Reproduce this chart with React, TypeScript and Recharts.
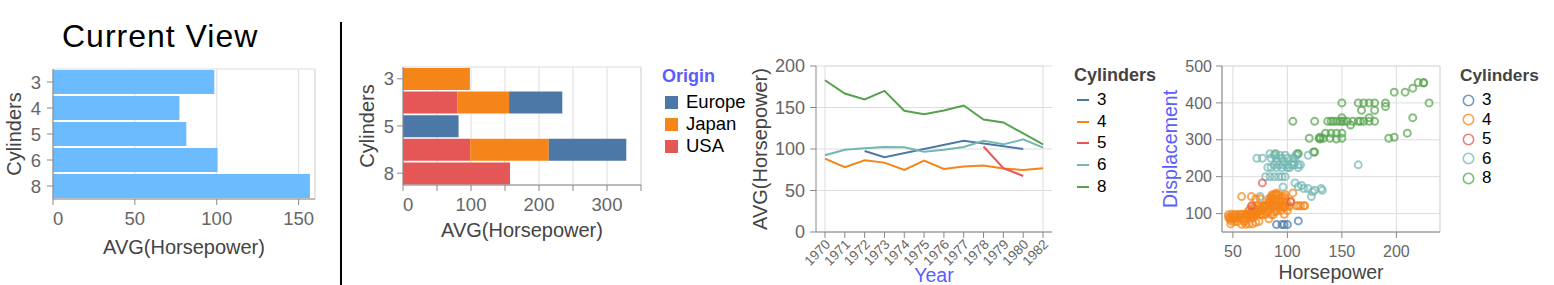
import React from "react";
import {
  BarChart,
  Bar,
  LineChart,
  Line,
  ScatterChart,
  Scatter,
  XAxis,
  YAxis,
  CartesianGrid,
  ReferenceArea,
  Label,
} from "recharts";

const FONT = "'Liberation Sans', Arial, Helvetica, sans-serif";
const ACCENT = "#5a5eff";
const TICK_FILL = "#666";
const TITLE_FILL = "#444";

// shared categories
const cylinders = ["3", "4", "5", "6", "8"];
const cylinderColors = ["#4c78a8", "#f58518", "#e45756", "#72b7b2", "#54a24b"];

// chart 1: average horsepower by cylinders
const avgHorsepower = [98.5, 77.2, 81.4, 100.5, 156.9];
const hpTicks1 = [0, 50, 100, 150];

// chart 2: stacked by origin
const origins = ["Europe", "Japan", "USA"];
const originColors = ["#4c78a8", "#f58518", "#e45756"];
const europeHp = [0, 78.3, 81.7, 114, 0];
const japanHp = [98.4, 75.8, 0, 115.5, 0];
const usaHp = [0, 80.2, 0, 98.9, 157.4];
const hpTicks2 = [0, 50, 100, 150, 200, 250, 300, 350];

// chart 3: avg horsepower per year
const years = ["1970", "1971", "1972", "1973", "1974", "1975", "1976", "1977", "1978", "1979", "1980", "1982"];
const hp3 = [null, null, 97.5, 90, null, null, null, 110, null, null, 100, null];
const hp4 = [88.4, 78, 86.4, 83.6, 74.8, 86, 76, 78.8, 80, 76.4, 74.8, 76.8];
const hp5 = [null, null, null, null, null, null, null, null, 103, 77, 67.5, null];
const hp6 = [92.4, 99.2, 100.8, 102.4, 102, 96.8, 99.2, 102.4, 110, 105.6, 111.6, 101.6];
const hp8 = [182.8, 166.8, 159.6, 170, 146, 142, 146.4, 152.4, 135.6, 132, null, 105.6];
const yTicks3 = [0, 50, 100, 150, 200];

// chart 4: horsepower vs displacement, [hp, displacement]
const cyl3Points = [[90, 70], [95, 70], [97, 70], [100, 70], [110, 80]];
const cyl5Points = [[67, 121], [77, 183], [103, 131]];
const cyl4Points = [
  [46, 97], [46, 90], [47, 85], [48, 85], [48, 91], [48, 72], [49, 98], [49, 79], [50, 90], [51, 88],
  [52, 79], [52, 97], [52, 85], [53, 97], [53, 90], [54, 78], [55, 90], [56, 98], [57, 91], [58, 98],
  [58, 71], [58, 146], [60, 89], [60, 79], [60, 97], [61, 79], [61, 85], [62, 71], [62, 97], [63, 91],
  [63, 98], [64, 105], [65, 72], [65, 97], [65, 98], [65, 110], [66, 98], [67, 91], [67, 98], [67, 105],
  [67, 146], [68, 97], [68, 72], [68, 120], [68, 107], [68, 89], [69, 97], [69, 116], [69, 91], [70, 98],
  [70, 113], [70, 105], [71, 76], [71, 97], [71, 140], [72, 98], [72, 108], [72, 120], [73, 108], [74, 79],
  [74, 110], [75, 97], [75, 108], [75, 140], [76, 98], [76, 120], [76, 108], [77, 112], [78, 108], [78, 97],
  [78, 120], [79, 119], [79, 122], [80, 120], [80, 98], [81, 105], [81, 121], [82, 119], [83, 86], [83, 140],
  [83, 130], [84, 112], [84, 120], [84, 134], [85, 140], [85, 97], [86, 122], [86, 135], [86, 151], [86, 140],
  [87, 97], [87, 119], [88, 121], [88, 140], [88, 151], [88, 134], [88, 105], [89, 151], [89, 119], [90, 107],
  [90, 119], [90, 140], [90, 151], [90, 156], [91, 122], [92, 116], [92, 135], [92, 151], [93, 121], [94, 108],
  [94, 133], [95, 120], [95, 143], [96, 119], [96, 134], [97, 120], [97, 98], [97, 146], [98, 120], [98, 140],
  [98, 151], [99, 130], [100, 108], [100, 119], [102, 120], [103, 134], [105, 156], [108, 121], [110, 121], [112, 121],
  [115, 121], [116, 121],
];
const cyl6Points = [
  [72, 250], [77, 250], [84, 262], [85, 250], [88, 258], [90, 250], [93, 258], [95, 250], [98, 258], [100, 250],
  [105, 250], [107, 250], [108, 258], [88, 232], [92, 232], [96, 232], [100, 225], [100, 232], [102, 225], [104, 232],
  [106, 232], [110, 232], [110, 225], [112, 232], [82, 225], [85, 225], [90, 225], [95, 225], [90, 240], [97, 240],
  [105, 240], [80, 200], [84, 200], [88, 200], [92, 200], [95, 200], [98, 200], [165, 232], [119, 258], [107, 183],
  [110, 173], [113, 176], [115, 168], [119, 168], [122, 146], [123, 159], [125, 163], [131, 168], [132, 163], [96, 172],
  [75, 146], [85, 146],
];
const cyl8Points = [
  [89, 262], [105, 350], [110, 262], [109, 262], [120, 304], [124, 267], [125, 350], [125, 267], [129, 304], [130, 307],
  [130, 302], [133, 304], [135, 318], [137, 350], [139, 304], [140, 318], [140, 350], [142, 350], [145, 318], [145, 350],
  [145, 302], [148, 350], [150, 318], [150, 304], [150, 400], [150, 350], [150, 360], [152, 350], [155, 350], [160, 350],
  [158, 340], [165, 350], [165, 400], [167, 350], [168, 380], [170, 400], [170, 350], [175, 400], [175, 350], [175, 360],
  [180, 400], [180, 350], [180, 380], [190, 400], [190, 390], [193, 304], [198, 307], [198, 429], [208, 429], [210, 318],
  [215, 360], [215, 440], [220, 455], [225, 455], [225, 454], [230, 400],
];
const hpTicks4 = [50, 100, 150, 200];
const dispTicks4 = [100, 200, 300, 400, 500];

const chart1Rows = cylinders.map((c, i) => ({ cyl: c, hp: avgHorsepower[i] }));
const chart2Rows = cylinders.map((c, i) => ({
  cyl: c,
  USA: usaHp[i],
  Japan: japanHp[i],
  Europe: europeHp[i],
}));
const chart3Rows = years.map((y, i) => ({
  year: y,
  c3: hp3[i],
  c4: hp4[i],
  c5: hp5[i],
  c6: hp6[i],
  c8: hp8[i],
}));
const toPts = (arr: number[][]) => arr.map(([hp, disp]) => ({ hp, disp }));

const yTitle = (text: string, cx: number, color: string, size: number) => (props: any) => {
  const vb = props.viewBox || { y: 0, height: 0 };
  const cy = vb.y + vb.height / 2;
  return (
    <text
      x={cx}
      y={cy}
      transform={`rotate(-90 ${cx} ${cy})`}
      textAnchor="middle"
      dominantBaseline="central"
      fill={color}
      fontSize={size}
      fontFamily={FONT}
    >
      {text}
    </text>
  );
};

const xTitle = (text: string, dy: number, color: string, size: number) => (props: any) => {
  const vb = props.viewBox || { x: 0, y: 0, width: 0 };
  return (
    <text
      x={vb.x + vb.width / 2}
      y={vb.y + dy}
      textAnchor="middle"
      dominantBaseline="central"
      fill={color}
      fontSize={size}
      fontFamily={FONT}
    >
      {text}
    </text>
  );
};

const flushTick = (fontSize: number, every: number, maxLabel: number) => (props: any) => {
  const { x, y, payload } = props;
  const v = payload.value;
  const show = v % every === 0 && v <= maxLabel;
  if (!show) return <g />;
  return (
    <text
      x={x}
      y={y}
      dy="0.71em"
      textAnchor={v === 0 ? "start" : "middle"}
      fill={TICK_FILL}
      fontSize={fontSize}
      fontFamily={FONT}
    >
      {v}
    </text>
  );
};

const YearTick = (props: any) => {
  const { x, y, payload } = props;
  const ax = x + 3;
  return (
    <text
      x={ax}
      y={y}
      transform={`rotate(-45 ${ax} ${y})`}
      textAnchor="end"
      dominantBaseline="central"
      fill={TICK_FILL}
      fontSize={13.5}
      fontFamily={FONT}
    >
      {payload.value}
    </text>
  );
};

const ring = (color: string) => (props: any) => (
  <circle
    cx={props.cx}
    cy={props.cy}
    r={3.5}
    fill="none"
    stroke={color}
    strokeWidth={2}
    strokeOpacity={0.7}
  />
);

const CurrentView = () => (
  <div style={{ position: "absolute", left: 0, top: 0 }}>
    <div
      style={{
        position: "absolute",
        left: 62,
        top: 20,
        fontSize: 32,
        lineHeight: 1,
        letterSpacing: 1,
        color: "#000",
        whiteSpace: "nowrap",
      }}
    >
      Current View
    </div>
    <BarChart
      layout="vertical"
      width={340}
      height={285}
      data={chart1Rows}
      margin={{ top: 69, right: 25, bottom: 36, left: 0 }}
      barCategoryGap={1}
    >
      <CartesianGrid horizontal={false} stroke="#ddd" />
      <ReferenceArea x1={0} x2={160} fill="none" stroke="#ddd" />
      <XAxis
        type="number"
        domain={[0, 160]}
        ticks={hpTicks1}
        stroke="#888"
        tickSize={6}
        tickMargin={7}
        height={50}
        tick={flushTick(18.5, 50, 150)}
      >
        <Label content={xTitle("AVG(Horsepower)", 48, TITLE_FILL, 20)} />
      </XAxis>
      <YAxis
        type="category"
        dataKey="cyl"
        width={53}
        stroke="#888"
        tickSize={6}
        tickMargin={6}
        tick={{ fill: TICK_FILL, fontSize: 18.5, fontFamily: FONT }}
      >
        <Label content={yTitle("Cylinders", 14, TITLE_FILL, 20)} />
      </YAxis>
      <Bar dataKey="hp" fill="#6cbbff" isAnimationActive={false} />
    </BarChart>
  </div>
);

const OriginChart = () => (
  <div style={{ position: "absolute", left: 345, top: 0 }}>
    <BarChart
      layout="vertical"
      width={400}
      height={285}
      data={chart2Rows}
      margin={{ top: 67, right: 104, bottom: 50, left: 0 }}
      barCategoryGap={1}
    >
      <CartesianGrid horizontal={false} stroke="#ddd" />
      <ReferenceArea x1={0} x2={350} fill="none" stroke="#ddd" />
      <XAxis
        type="number"
        domain={[0, 350]}
        ticks={hpTicks2}
        stroke="#888"
        tickSize={6}
        tickMargin={7}
        height={50}
        tick={flushTick(18.5, 100, 300)}
      >
        <Label content={xTitle("AVG(Horsepower)", 45, TITLE_FILL, 20)} />
      </XAxis>
      <YAxis
        type="category"
        dataKey="cyl"
        width={58}
        stroke="#888"
        tickSize={6}
        tickMargin={3}
        tick={{ fill: TICK_FILL, fontSize: 18.5, fontFamily: FONT }}
      >
        <Label content={yTitle("Cylinders", 22, TITLE_FILL, 20)} />
      </YAxis>
      <Bar dataKey="USA" stackId="o" fill={originColors[2]} isAnimationActive={false} />
      <Bar dataKey="Japan" stackId="o" fill={originColors[1]} isAnimationActive={false} />
      <Bar dataKey="Europe" stackId="o" fill={originColors[0]} isAnimationActive={false} />
    </BarChart>
    <div style={{ position: "absolute", left: 317, top: 65 }}>
      <div style={{ fontWeight: 700, fontSize: 18, lineHeight: "22px", color: ACCENT }}>Origin</div>
      <div style={{ height: 4 }} />
      {origins.map((o, i) => (
        <div key={o} style={{ display: "flex", alignItems: "center", height: 22 }}>
          <span
            style={{
              display: "inline-block",
              width: 13,
              height: 13,
              marginLeft: 3,
              marginRight: 8,
              background: originColors[i],
            }}
          />
          <span style={{ fontSize: 18.5, color: "#000" }}>{o}</span>
        </div>
      ))}
    </div>
  </div>
);

const YearChart = () => (
  <div style={{ position: "absolute", left: 740, top: 0 }}>
    <LineChart
      width={330}
      height={285}
      data={chart3Rows}
      margin={{ top: 66, right: 18, bottom: 0, left: 0 }}
    >
      <CartesianGrid vertical={false} stroke="#ddd" />
      <ReferenceArea y1={0} y2={200} fill="none" stroke="#ddd" />
      <XAxis
        dataKey="year"
        interval={0}
        padding={{ left: 9, right: 9 }}
        stroke="#888"
        tickSize={6}
        tickMargin={4}
        height={53}
        tick={YearTick}
      >
        <Label content={xTitle("Year", 43, ACCENT, 19.5)} />
      </XAxis>
      <YAxis
        type="number"
        domain={[0, 200]}
        ticks={yTicks3}
        width={76}
        stroke="#888"
        tickSize={6}
        tickMargin={5}
        tick={{ fill: TICK_FILL, fontSize: 18, fontFamily: FONT }}
      >
        <Label content={yTitle("AVG(Horsepower)", 20, TITLE_FILL, 20)} />
      </YAxis>
      {["c3", "c4", "c5", "c6", "c8"].map((k, i) => (
        <Line
          key={k}
          type="linear"
          dataKey={k}
          stroke={cylinderColors[i]}
          strokeWidth={2}
          dot={false}
          connectNulls
          isAnimationActive={false}
        />
      ))}
    </LineChart>
    <div style={{ position: "absolute", left: 334, top: 64 }}>
      <div style={{ fontWeight: 700, fontSize: 18, lineHeight: "22px", color: TITLE_FILL }}>Cylinders</div>
      <div style={{ height: 3 }} />
      {cylinders.map((c, i) => (
        <div key={c} style={{ display: "flex", alignItems: "center", height: 21.7 }}>
          <span
            style={{
              display: "inline-block",
              width: 12,
              height: 2,
              marginLeft: 3,
              marginRight: 8,
              background: cylinderColors[i],
            }}
          />
          <span style={{ fontSize: 17, color: "#000" }}>{c}</span>
        </div>
      ))}
    </div>
  </div>
);

const ScatterView = () => (
  <div style={{ position: "absolute", left: 1160, top: 0 }}>
    <ScatterChart width={290} height={285} margin={{ top: 66, right: 10, bottom: 0, left: 0 }}>
      <CartesianGrid stroke="#ddd" />
      <ReferenceArea x1={40} x2={240} y1={50} y2={500} fill="none" stroke="#ddd" />
      <XAxis
        type="number"
        dataKey="hp"
        domain={[40, 240]}
        ticks={hpTicks4}
        stroke="#888"
        tickSize={6}
        tickMargin={8}
        height={53}
        tick={{ fill: TICK_FILL, fontSize: 16, fontFamily: FONT }}
      >
        <Label content={xTitle("Horsepower", 40, TITLE_FILL, 19.5)} />
      </XAxis>
      <YAxis
        type="number"
        dataKey="disp"
        domain={[50, 500]}
        ticks={dispTicks4}
        width={62}
        stroke="#888"
        tickSize={6}
        tickMargin={4}
        tick={{ fill: TICK_FILL, fontSize: 16, fontFamily: FONT }}
      >
        <Label content={yTitle("Displacement", 10, ACCENT, 19.5)} />
      </YAxis>
      <Scatter data={toPts(cyl8Points)} shape={ring(cylinderColors[4])} isAnimationActive={false} />
      <Scatter data={toPts(cyl6Points)} shape={ring(cylinderColors[3])} isAnimationActive={false} />
      <Scatter data={toPts(cyl4Points)} shape={ring(cylinderColors[1])} isAnimationActive={false} />
      <Scatter data={toPts(cyl5Points)} shape={ring(cylinderColors[2])} isAnimationActive={false} />
      <Scatter data={toPts(cyl3Points)} shape={ring(cylinderColors[0])} isAnimationActive={false} />
    </ScatterChart>
    <div style={{ position: "absolute", left: 300, top: 64 }}>
      <div style={{ fontWeight: 700, fontSize: 17.3, lineHeight: "22px", color: TITLE_FILL }}>Cylinders</div>
      <div style={{ height: 4.3 }} />
      {cylinders.map((c, i) => (
        <div key={c} style={{ display: "flex", alignItems: "center", height: 19.5 }}>
          <svg width={13} height={13} style={{ marginLeft: 1.5, marginRight: 7.5 }}>
            <circle cx={6.5} cy={6.5} r={5.2} fill="none" stroke={cylinderColors[i]} strokeWidth={1.6} strokeOpacity={0.75} />
          </svg>
          <span style={{ fontSize: 17, color: "#000" }}>{c}</span>
        </div>
      ))}
    </div>
  </div>
);

export default function App() {
  return (
    <div
      style={{
        position: "absolute",
        left: 0,
        top: 0,
        width: 1554,
        height: 285,
        background: "#fff",
        fontFamily: FONT,
        overflow: "hidden",
      }}
    >
      <CurrentView />
      <div style={{ position: "absolute", left: 340, top: 22, width: 2, height: 263, background: "#000" }} />
      <OriginChart />
      <YearChart />
      <ScatterView />
    </div>
  );
}
